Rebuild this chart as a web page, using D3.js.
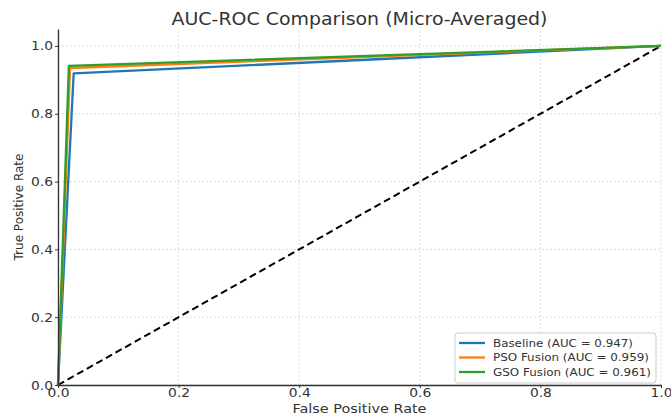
<!DOCTYPE html>
<html>
<head>
<meta charset="utf-8">
<script src="https://cdn.jsdelivr.net/npm/d3@7"></script>
<style>
  body { margin: 0; background: #fff; }
  text { font-family: "DejaVu Sans", sans-serif; }
</style>
</head>
<body>
<div id="chart"></div>
<script>
// ROC points (fpr, tpr)
const seriesNames = ["Baseline (AUC = 0.947)", "PSO Fusion (AUC = 0.959)", "GSO Fusion (AUC = 0.961)"];
const seriesColors = ["#1f77b4", "#ff7f0e", "#2ca02c"];
const baselineFpr = [0, 0.026, 1];
const baselineTpr = [0, 0.919, 1];
const psoFpr = [0, 0.02, 1];
const psoTpr = [0, 0.935, 1];
const gsoFpr = [0, 0.018, 1];
const gsoTpr = [0, 0.941, 1];
const chanceLine = [0, 1];
const tickValues = [0, 0.2, 0.4, 0.6, 0.8, 1.0];

const w = 671, h = 415;

const svg = d3.select("#chart").append("svg")
    .attr("width", w)
    .attr("height", h);

const x = d3.scaleLinear().domain([0, 1]).range([58, 661]);
const y = d3.scaleLinear().domain([0, 1.05]).range([385, 29]);

// grid
const grid = svg.append("g")
    .attr("stroke", "#c4c4c4")
    .attr("stroke-width", 0.6)
    .attr("stroke-dasharray", "2,2");
grid.selectAll(".gx").data(tickValues).join("line")
    .attr("x1", d => x(d)).attr("x2", d => x(d))
    .attr("y1", y(0)).attr("y2", y(1.05));
grid.selectAll(".gy").data(tickValues).join("line")
    .attr("x1", x(0)).attr("x2", x(1))
    .attr("y1", d => y(d)).attr("y2", d => y(d));

// chance line
const line = d3.line().x(d => x(d[0])).y(d => y(d[1]));
svg.append("path")
    .attr("d", line(chanceLine.map((d, i) => [d, chanceLine[i]])))
    .attr("fill", "none")
    .attr("stroke", "#000")
    .attr("stroke-width", 2)
    .attr("stroke-dasharray", "7,4");

const series = [
    baselineFpr.map((d, i) => [d, baselineTpr[i]]),
    psoFpr.map((d, i) => [d, psoTpr[i]]),
    gsoFpr.map((d, i) => [d, gsoTpr[i]])
];

svg.append("g").selectAll("path")
    .data(series)
    .join("path")
    .attr("d", line)
    .attr("fill", "none")
    .attr("stroke", (d, i) => seriesColors[i])
    .attr("stroke-width", 2.3)
    .attr("stroke-linejoin", "round");

// axes
const xAxis = svg.append("g")
    .attr("transform", `translate(0,${y(0)})`)
    .call(d3.axisBottom(x).tickValues(tickValues).tickFormat(d3.format(".1f"))
        .tickSize(3).tickPadding(0).tickSizeOuter(0));
const yAxis = svg.append("g")
    .attr("transform", `translate(${x(0)},0)`)
    .call(d3.axisLeft(y).tickValues(tickValues).tickFormat(d3.format(".1f"))
        .tickSize(3).tickPadding(2).tickSizeOuter(0));

[xAxis, yAxis].forEach(a => {
    a.select(".domain").attr("stroke", "#333").attr("stroke-width", 1.3);
    a.selectAll(".tick line").attr("stroke", "#333");
    a.selectAll("text").attr("font-size", 12.5).attr("fill", "#333")
        .attr("textLength", 22).attr("lengthAdjust", "spacingAndGlyphs")
        .style("font-family", "DejaVu Sans, sans-serif");
});

// labels
svg.append("text")
    .attr("x", (x(0) + x(1)) / 2)
    .attr("y", 25)
    .attr("text-anchor", "middle")
    .attr("font-size", 17)
    .attr("fill", "#333")
    .attr("textLength", 376)
    .attr("lengthAdjust", "spacingAndGlyphs")
    .text("AUC-ROC Comparison (Micro-Averaged)");

svg.append("text")
    .attr("x", (x(0) + x(1)) / 2)
    .attr("y", 413)
    .attr("text-anchor", "middle")
    .attr("font-size", 13)
    .attr("fill", "#333")
    .attr("textLength", 134)
    .attr("lengthAdjust", "spacingAndGlyphs")
    .text("False Positive Rate");

svg.append("text")
    .attr("transform", `translate(23,${(y(0) + y(1.05)) / 2}) rotate(-90)`)
    .attr("text-anchor", "middle")
    .attr("font-size", 12)
    .attr("fill", "#333")
    .text("True Positive Rate");

// legend
const legendWidths = [140, 156, 158];
const legend = svg.append("g").attr("transform", "translate(455,333)");
legend.append("rect")
    .attr("width", 201).attr("height", 50)
    .attr("rx", 3)
    .attr("fill", "#fff").attr("fill-opacity", 0.85)
    .attr("stroke", "#ccc");
const items = legend.selectAll(".item").data(seriesNames).join("g")
    .attr("transform", (d, i) => `translate(0,${10 + i * 14.5})`);
items.append("line")
    .attr("x1", 4).attr("x2", 30)
    .attr("stroke", (d, i) => seriesColors[i])
    .attr("stroke-width", 2.3);
items.append("text")
    .attr("x", 38).attr("dy", "0.35em")
    .attr("font-size", 11)
    .attr("fill", "#333")
    .attr("textLength", (d, i) => legendWidths[i])
    .attr("lengthAdjust", "spacingAndGlyphs")
    .text(d => d);
</script>
</body>
</html>
